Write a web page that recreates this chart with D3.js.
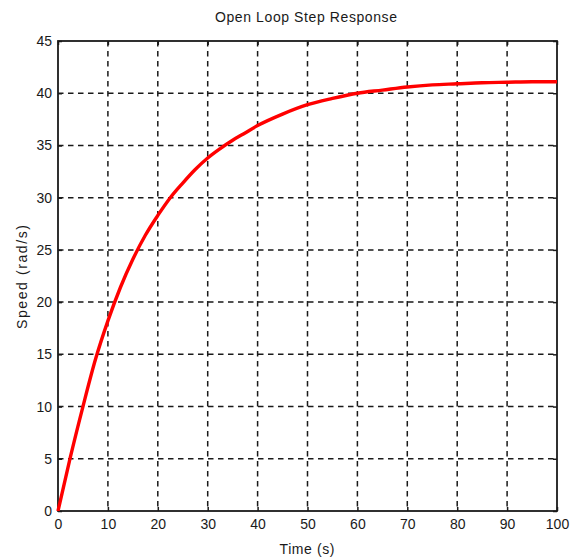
<!DOCTYPE html>
<html><head><meta charset="utf-8">
<script src="https://cdn.jsdelivr.net/npm/d3@7"></script>
<style>body{margin:0;background:#fff;}svg{display:block;}</style>
</head><body>
<script>
const timeValues = [0,2.5,5,7.5,10,12.5,15,17.5,20,22.5,25,27.5,30,32.5,35,37.5,40,45,50,55,60,65,70,75,80,85,90,95,100];
const speedValues = [0,5.2,10.0,14.5,18.2,21.4,24.1,26.4,28.3,30.0,31.4,32.7,33.8,34.7,35.5,36.2,36.9,38.0,38.9,39.5,40.0,40.3,40.6,40.8,40.9,41.0,41.05,41.1,41.1];
const xTicks = [0,10,20,30,40,50,60,70,80,90,100];
const yTicks = [0,5,10,15,20,25,30,35,40,45];
const title = "Open Loop Step Response";
const xLabel = "Time (s)";
const yLabel = "Speed (rad/s)";

const W = 571, H = 559;
const m = {left:58, top:41, right:557, bottom:511};
const svg = d3.select("body").append("svg").attr("width",W).attr("height",H);
const x = d3.scaleLinear().domain([0,100]).range([m.left,m.right]);
const y = d3.scaleLinear().domain([0,45]).range([m.bottom,m.top]);
const font = "'Liberation Sans', Arial, sans-serif";
const ink = "#1a1a1a";

// grid
const g = svg.append("g");
g.selectAll(".vg").data(xTicks.slice(1,-1)).join("line")
  .attr("x1",d=>x(d)).attr("x2",d=>x(d)).attr("y1",m.top).attr("y2",m.bottom)
  .attr("stroke",ink).attr("stroke-width",1.5).attr("stroke-dasharray","5.5,4.5");
g.selectAll(".hg").data(yTicks.slice(1,-1)).join("line")
  .attr("y1",d=>y(d)).attr("y2",d=>y(d)).attr("x1",m.left).attr("x2",m.right)
  .attr("stroke",ink).attr("stroke-width",1.5).attr("stroke-dasharray","5.5,4.5");

// axes
const xAxisB = d3.axisBottom(x).tickValues(xTicks).tickSize(-4).tickPadding(8).tickFormat(d3.format("d"));
const xAxisT = d3.axisTop(x).tickValues(xTicks).tickSize(-4).tickFormat("");
const yAxisL = d3.axisLeft(y).tickValues(yTicks).tickSize(-4).tickPadding(6).tickFormat(d3.format("d"));
const yAxisR = d3.axisRight(y).tickValues(yTicks).tickSize(-4).tickFormat("");
function style(sel){
  sel.selectAll("path").remove();
  sel.selectAll("line").attr("stroke",ink).attr("stroke-width",1.5);
  sel.selectAll("text").attr("fill",ink).style("font-family",font).style("font-size","14px");
}
svg.append("g").attr("transform",`translate(0,${m.bottom})`).call(xAxisB).call(style);
svg.append("g").attr("transform",`translate(0,${m.top})`).call(xAxisT).call(style);
svg.append("g").attr("transform",`translate(${m.left},0)`).call(yAxisL).call(style);
svg.append("g").attr("transform",`translate(${m.right},0)`).call(yAxisR).call(style);

// box
svg.append("rect").attr("x",m.left).attr("y",m.top).attr("width",m.right-m.left).attr("height",m.bottom-m.top)
  .attr("fill","none").attr("stroke",ink).attr("stroke-width",1.8);

// curve
const line = d3.line().x((d,i)=>x(timeValues[i])).y(d=>y(d)).curve(d3.curveMonotoneX);
svg.append("path").datum(speedValues).attr("d",line)
  .attr("fill","none").attr("stroke","#ff0000").attr("stroke-width",3.4);

// labels
svg.append("text").attr("x",306).attr("y",22).attr("text-anchor","middle")
  .attr("textLength",182).attr("lengthAdjust","spacing")
  .style("font-family",font).style("font-size","14px").attr("fill",ink).text(title);
svg.append("text").attr("x",307).attr("y",554).attr("text-anchor","middle")
  .attr("textLength",55).attr("lengthAdjust","spacing")
  .style("font-family",font).style("font-size","14px").attr("fill",ink).text(xLabel);
svg.append("text").attr("transform",`translate(27,277) rotate(-90)`).attr("text-anchor","middle")
  .attr("textLength",104).attr("lengthAdjust","spacing")
  .style("font-family",font).style("font-size","14px").attr("fill",ink).text(yLabel);
</script>
</body></html>
